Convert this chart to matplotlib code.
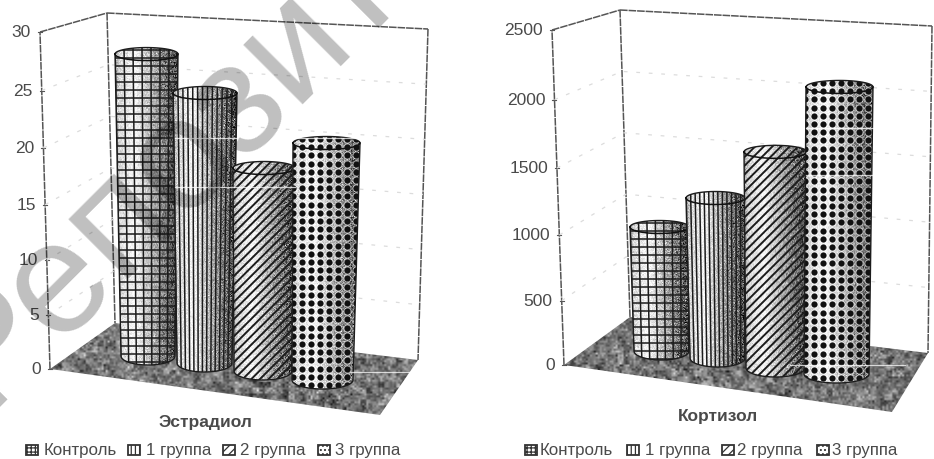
import numpy as np
import matplotlib
matplotlib.use("Agg")
import matplotlib.pyplot as plt
from matplotlib.collections import LineCollection
from matplotlib.patches import PathPatch, Polygon, Rectangle
from matplotlib.path import Path

plt.rcParams['font.family'] = ['Liberation Sans', 'DejaVu Sans']
plt.rcParams['hatch.linewidth'] = 0.9

categories = ["Контроль", "1 группа", "2 группа", "3 группа"]
estradiol_values = [27.5, 24, 17.5, 20]
cortisol_values = [1000, 1250, 1650, 2100]
estradiol_ticks = [0, 5, 10, 15, 20, 25, 30]
cortisol_ticks = [0, 500, 1000, 1500, 2000, 2500]

INK = "#1c1c1c"
BOX = "#555555"
TEXT = "#4a4a4a"

# layout of each 3d box, pixels
estradiol_box = dict(
    front_top=(40, 32), front_bottom=(50, 369),
    back_top=(107, 13), back_bottom=(115, 323),
    right_top=(428, 29), right_bottom=(418, 360),
    floor_front=(380, 415),
    base_x=[(121, 175), (177, 232), (234, 292), (292, 353)],
    top_x=[(115, 178), (173, 237), (233, 295), (293, 360)],
    base_y=[356, 363, 371, 380],
    px_per_unit=[10.98, 11.25, 11.6, 11.85],
    title_xy=(205, 422),
    legend_y=450,
    icon_x=[26, 128, 223, 318],
    text_x=[44, 146, 240, 335],
    streaks=[(175, 237, 138), (175, 295, 187), (293, 360, 138), (350, 415, 372)],
)
cortisol_box = dict(
    front_top=(552, 30), front_bottom=(564, 365),
    back_top=(620, 10), back_bottom=(630, 317),
    right_top=(932, 26), right_bottom=(928, 353),
    floor_front=(892, 412),
    base_x=[(634, 689), (690, 745), (746, 805), (804, 869)],
    top_x=[(630, 689), (686, 745), (744, 807), (806, 873)],
    base_y=[351, 358, 368, 374],
    px_per_unit=[0.124, 0.128, 0.131, 0.1367],
    title_xy=(718, 416),
    legend_y=450,
    icon_x=[525, 627, 722, 817],
    text_x=[540, 645, 737, 832],
    streaks=[(806, 873, 128), (806, 873, 175), (790, 905, 365)],
)

fig = plt.figure(figsize=(9.34, 4.59), dpi=100)
ax = fig.add_axes([0, 0, 1, 1])
ax.set_xlim(0, 934)
ax.set_ylim(459, 0)
ax.axis("off")

rng = np.random.default_rng(11)


def lerp(p, q, t):
    return (p[0] + (q[0] - p[0]) * t, p[1] + (q[1] - p[1]) * t)


def textured_image(shade, extent, clip, zorder):
    im = ax.imshow(shade, cmap="gray", vmin=0, vmax=1, extent=extent,
                   aspect="auto", interpolation="bilinear", zorder=zorder)
    im.set_clip_path(clip)


def cylinder_outline(xb, xt, yb, yt, ry_base=9, ry_top=6.5):
    # silhouette: far half of the cap left to right, near half of the base right to left
    a = np.linspace(np.pi, 0, 40)
    cx, rx = (xt[0] + xt[1]) / 2, (xt[1] - xt[0]) / 2
    top = np.c_[cx + rx * np.cos(a), yt - ry_top * np.sin(a)]
    cx, rx = (xb[0] + xb[1]) / 2, (xb[1] - xb[0]) / 2
    bottom = np.c_[cx + rx * np.cos(a[::-1]), yb + ry_base * np.sin(a[::-1])]
    return np.r_[top, bottom]


def add_pattern(kind, xb, xt, yb, yt, clip, z):
    y0, y1 = yt - 8, yb + 10
    x0, x1 = min(xb[0], xt[0]) - 2, max(xb[1], xt[1]) + 2
    segs = []
    if kind in (0, 1):
        step = 8.3 if kind == 0 else 4.2
        n = int(round((xb[1] - xb[0]) / step))
        for i in range(n + 1):
            t = i / n
            segs.append([(xt[0] + (xt[1] - xt[0]) * t, y0),
                         (xb[0] + (xb[1] - xb[0]) * t, y1)])
    if kind == 0:
        for y in np.arange(y0 + 4, y1, 8.0):
            segs.append([(x0, y), (x1, y)])
    if kind == 2:
        h = y1 - y0
        for x in np.arange(x0 - 10, x1 + h + 10, 8.6):
            segs.append([(x, y0), (x - h, y0 + h)])
    if segs:
        lc = LineCollection(segs, colors=INK, linewidths=1.4 if kind == 2 else 1.1,
                            zorder=z)
        ax.add_collection(lc)
        lc.set_clip_path(clip)
    if kind == 3:
        xs, ys = np.meshgrid(np.arange(x0 + 3, x1, 9.0), np.arange(y0 + 4, y1, 8.2))
        halo = ax.scatter(xs.ravel(), ys.ravel(), s=36, color="white", alpha=0.5,
                          linewidths=0, zorder=z)
        dots = ax.scatter(xs.ravel(), ys.ravel(), s=20, color="#111111",
                          linewidths=0, zorder=z + 0.1)
        halo.set_clip_path(clip)
        dots.set_clip_path(clip)


def draw_cylinder(kind, xb, xt, yb, yt, z):
    pts = cylinder_outline(xb, xt, yb, yt)
    clip = PathPatch(Path(np.r_[pts, pts[:1]]), facecolor="white", edgecolor="none", zorder=z)
    ax.add_patch(clip)

    # light band left of centre falling off into speckled shadow on the right
    x0, x1 = min(xb[0], xt[0]) - 1, max(xb[1], xt[1]) + 1
    y0, y1 = yt - 8, yb + 10
    w, h = int(x1 - x0), int(y1 - y0)
    t = np.linspace(0, 1, w)
    base = np.interp(t, [0, 0.08, 0.32, 0.6, 0.85, 1], [0.62, 0.85, 0.97, 0.7, 0.42, 0.28])
    shade = np.tile(base, (h, 1))
    shade += rng.normal(0, 0.2, shade.shape) * (1.15 - shade)
    textured_image(np.clip(shade, 0, 1), (x0, x1, y1, y0), clip, z + 0.1)

    add_pattern(kind, xb, xt, yb, yt, clip, z + 0.2)

    # outline and the near rim of the cap
    closed = np.r_[pts, pts[:1]]
    ax.plot(closed[:, 0], closed[:, 1], color=INK, lw=1.0, zorder=z + 0.3)
    a = np.linspace(np.pi, 0, 40)
    cx, rx = (xt[0] + xt[1]) / 2, (xt[1] - xt[0]) / 2
    ax.plot(cx + rx * np.cos(a), yt + 6.5 * np.sin(a), color="#111111", lw=1.1, zorder=z + 0.3)


def draw_panel(box, values, ticks, title):
    top_value = ticks[-1]
    ft, fb = box["front_top"], box["front_bottom"]
    bt, bb = box["back_top"], box["back_bottom"]
    rt, rb = box["right_top"], box["right_bottom"]

    # walls
    for pair in [(fb, ft), (ft, bt), (bt, rt), (rt, rb), (bt, bb)]:
        ax.plot([pair[0][0], pair[1][0]], [pair[0][1], pair[1][1]], color=BOX, lw=1.1,
                ls=(0, (5, 0.6)), zorder=1)

    # floor with a mottled grey fill
    floor_pts = [fb, bb, rb, box["floor_front"]]
    floor = Polygon(floor_pts, closed=True, facecolor="none", edgecolor="none", zorder=2)
    ax.add_patch(floor)
    xs = [p[0] for p in floor_pts]
    ys = [p[1] for p in floor_pts]
    ext = (min(xs), max(xs), max(ys), min(ys))
    nw, nh = (ext[1] - ext[0]) // 2 + 1, (ext[2] - ext[3]) // 2 + 1
    coarse = np.kron(rng.normal(0, 0.08, (nh // 3 + 1, nw // 3 + 1)), np.ones((3, 3)))[:nh, :nw]
    grain = 0.46 + coarse + rng.normal(0, 0.1, (nh, nw))
    textured_image(np.clip(grain, 0, 1), ext, floor, 2.1)

    # value axis: the front edge is slightly stretched towards the top
    for v in ticks:
        frac = v / top_value
        t = frac * 0.95 + 0.05 * frac ** 2
        p = lerp(fb, ft, t)
        ax.text(p[0] - 9, p[1] + 0.5, str(v), ha="right", va="center", fontsize=12.5, color=TEXT)
        ax.plot([p[0] - 2, p[0] + 2], [p[1], p[1]], color=BOX, lw=0.8, zorder=1)
        if 0 < v < top_value:
            q = lerp(bb, bt, frac)
            r = lerp(rb, rt, frac)
            ax.plot([p[0], q[0], r[0]], [p[1], q[1], r[1]], color="#dcdcdc", lw=0.9,
                    ls=(0, (3, 7)), zorder=1)

    for i, v in enumerate(values):
        yb = box["base_y"][i]
        yt = yb - v * box["px_per_unit"][i]
        draw_cylinder(i, box["base_x"][i], box["top_x"][i], yb, yt, 3 + i)

    # pale horizontal streaks across the bars
    for x0, x1, y in box["streaks"]:
        ax.plot([x0, x1], [y, y], color="white", lw=0.9, alpha=0.75, zorder=7.5)

    ax.text(*box["title_xy"], title, ha="center", va="center", fontsize=12.5,
            fontweight="bold", color=TEXT, zorder=8)

    hatches = ["++++", "||||", "////", "...."]
    y = box["legend_y"]
    for i, label in enumerate(categories):
        ax.add_patch(Rectangle((box["icon_x"][i], y - 5), 12, 10, facecolor="white",
                               edgecolor="#333333", lw=1.3, hatch=hatches[i], zorder=8))
        ax.text(box["text_x"][i], y, label, ha="left", va="center", fontsize=12.2,
                color=TEXT, zorder=8)


draw_panel(estradiol_box, estradiol_values, estradiol_ticks, "Эстрадиол")
draw_panel(cortisol_box, cortisol_values, cortisol_ticks, "Кортизол")

# diagonal repository stamp over the left panel
ax.text(-15, 410, "Репозиторий", rotation=45, rotation_mode="anchor", ha="left", va="baseline",
        fontsize=115, color="black", alpha=0.25, zorder=20, clip_on=False)

ax.set_xlim(0, 934)
ax.set_ylim(459, 0)
fig.savefig("out.png", dpi=100)
